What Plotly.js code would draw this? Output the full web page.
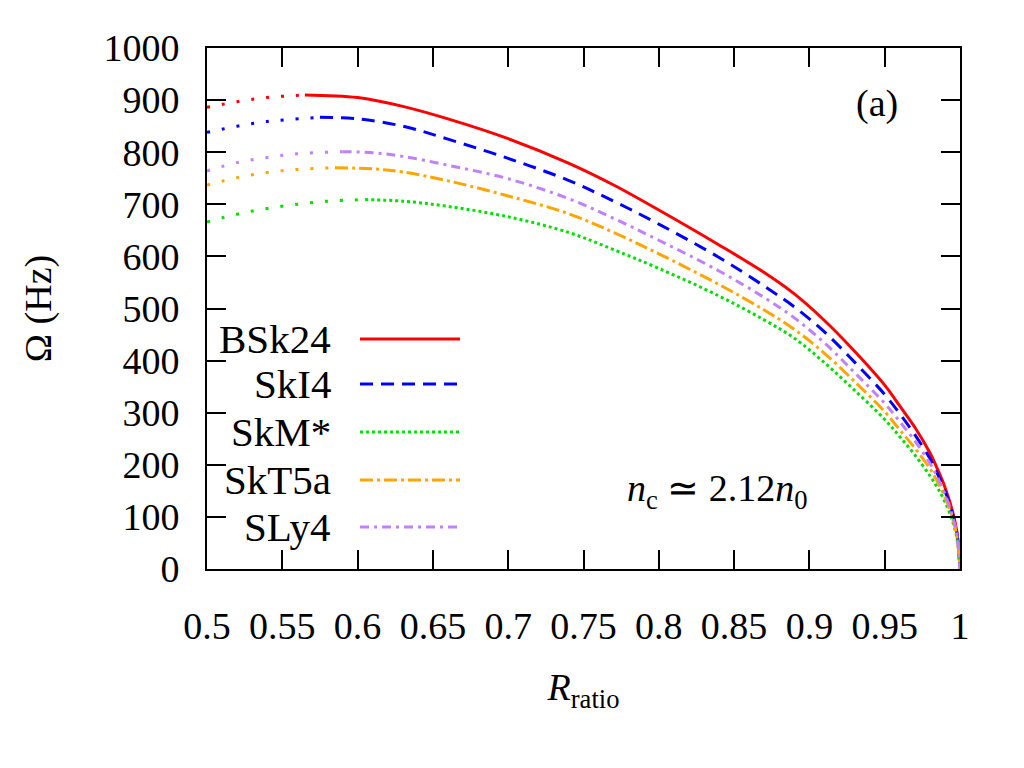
<!DOCTYPE html>
<html>
<head>
<meta charset="utf-8">
<script src="https://cdn.plot.ly/plotly-3.0.1.min.js"></script>
<style>
  html, body { margin: 0; padding: 0; background: #fff; }
  #chart { width: 1024px; height: 768px; }
</style>
</head>
<body>
<div id="chart"></div>
<script>
// Kepler-type frequency Omega (Hz) versus R_ratio for five Skyrme EoS,
// at n_c ~ 2.12 n_0. Each model has an unstable branch (sparse dots,
// left of the maximum) and a stable branch (model line style).

// BSk24
const bsk24UnstR = [0.50, 0.52, 0.54, 0.565];
const bsk24UnstW = [886, 897, 905, 910];
const bsk24R = [0.565, 0.60, 0.63, 0.66, 0.70, 0.74, 0.77, 0.80, 0.84, 0.87, 0.89, 0.91, 0.93, 0.95, 0.96, 0.97, 0.98, 0.985, 0.99, 0.995, 0.998, 1.0];
const bsk24W = [910, 905, 888, 864, 826, 779, 737, 689, 622, 569, 528, 477, 418, 353, 313, 272, 223, 192, 157, 111, 70, 0];

// SkI4
const ski4UnstR = [0.50, 0.52, 0.54, 0.575];
const ski4UnstW = [838, 850, 859, 867];
const ski4R = [0.575, 0.60, 0.63, 0.66, 0.70, 0.74, 0.77, 0.80, 0.84, 0.87, 0.89, 0.91, 0.93, 0.95, 0.96, 0.97, 0.98, 0.985, 0.99, 0.995, 0.998, 1.0];
const ski4W = [867, 864, 850, 825, 788, 746, 706, 662, 598, 543, 503, 455, 397, 335, 298, 258, 212, 183, 150, 106, 67, 0];

// SkM*
const skmUnstR = [0.50, 0.52, 0.54, 0.56, 0.58, 0.605];
const skmUnstW = [666, 681, 692, 700, 706, 709];
const skmR = [0.605, 0.63, 0.66, 0.70, 0.74, 0.77, 0.80, 0.84, 0.87, 0.89, 0.91, 0.93, 0.95, 0.96, 0.97, 0.98, 0.985, 0.99, 0.995, 0.998, 1.0];
const skmW = [709, 706, 696, 676, 646, 613, 577, 524, 478, 443, 396, 343, 287, 254, 219, 179, 156, 129, 92, 58, 0];

// SkT5a
const skt5aUnstR = [0.50, 0.52, 0.54, 0.56, 0.585];
const skt5aUnstW = [737, 751, 761, 767, 770];
const skt5aR = [0.585, 0.61, 0.63, 0.66, 0.70, 0.74, 0.77, 0.80, 0.84, 0.87, 0.89, 0.91, 0.93, 0.95, 0.96, 0.97, 0.98, 0.985, 0.99, 0.995, 0.998, 1.0];
const skt5aW = [770, 768, 762, 745, 716, 682, 646, 605, 546, 497, 460, 414, 360, 302, 267, 232, 193, 168, 138, 98, 62, 0];

// SLy4
const sly4UnstR = [0.50, 0.52, 0.54, 0.56, 0.59];
const sly4UnstW = [764, 780, 790, 797, 801];
const sly4R = [0.59, 0.61, 0.63, 0.66, 0.70, 0.74, 0.77, 0.80, 0.84, 0.87, 0.89, 0.91, 0.93, 0.95, 0.96, 0.97, 0.98, 0.985, 0.99, 0.995, 0.998, 1.0];
const sly4W = [801, 799, 792, 775, 749, 711, 673, 631, 572, 521, 482, 434, 377, 318, 283, 246, 203, 176, 144, 102, 64, 0];

const modelNames = ["BSk24", "SkI4", "SkM*", "SkT5a", "SLy4"];
const modelColors = ["#ff0000", "#0000ff", "#00e000", "#ffa500", "#c080ff"];
const modelDashes = ["solid", "13px,8px", "3px,3px", "13px,4px,3px,4px", "9px,5px,3px,5px"];
const unstableDash = "3px,12px";

const xTickVals = [0.5, 0.55, 0.6, 0.65, 0.7, 0.75, 0.8, 0.85, 0.9, 0.95, 1];
const xTickText = ["0.5", "0.55", "0.6", "0.65", "0.7", "0.75", "0.8", "0.85", "0.9", "0.95", "1"];
const yTickVals = [0, 100, 200, 300, 400, 500, 600, 700, 800, 900, 1000];

const branches = [
  [bsk24UnstR, bsk24UnstW, bsk24R, bsk24W],
  [ski4UnstR, ski4UnstW, ski4R, ski4W],
  [skmUnstR, skmUnstW, skmR, skmW],
  [skt5aUnstR, skt5aUnstW, skt5aR, skt5aW],
  [sly4UnstR, sly4UnstW, sly4R, sly4W]
];

const LW = 3;
const traces = [];
branches.forEach((b, i) => {
  traces.push({
    x: b[0], y: b[1], mode: "lines", name: modelNames[i] + " (unstable)",
    showlegend: false, hoverinfo: "skip",
    line: { color: modelColors[i], width: LW, dash: unstableDash, shape: "spline", smoothing: 1 }
  });
  traces.push({
    x: b[2], y: b[3], mode: "lines", name: modelNames[i],
    showlegend: false,
    line: { color: modelColors[i], width: LW, dash: modelDashes[i], shape: "spline", smoothing: 1 }
  });
});

const FONT = "'Liberation Serif', 'Times New Roman', serif";

// Key: label on the left, line sample on the right
const keyRows = [0.4415, 0.3551, 0.2630, 0.1708, 0.0806];
const annotations = [];
const shapes = [];
modelNames.forEach((n, i) => {
  annotations.push({
    xref: "paper", yref: "paper", x: 0.1673, y: keyRows[i],
    xanchor: "right", yanchor: "middle", showarrow: false,
    text: n, font: { family: FONT, size: 41, color: "#000" }
  });
  shapes.push({
    type: "line", xref: "paper", yref: "paper",
    x0: 0.2032, x1: 0.3360, y0: keyRows[i], y1: keyRows[i],
    line: { color: modelColors[i], width: LW, dash: modelDashes[i] }
  });
});

annotations.push({
  xref: "paper", yref: "paper", x: 0.8898, y: 0.8944,
  xanchor: "center", yanchor: "middle", showarrow: false,
  text: "(a)", font: { family: FONT, size: 38, color: "#000" }
});
annotations.push({
  xref: "paper", yref: "paper", x: 0.6773, y: 0.1497,
  xanchor: "center", yanchor: "middle", showarrow: false,
  text: "<i>n</i><sub>c</sub> \u2243 2.12<i>n</i><sub>0</sub>",
  font: { family: FONT, size: 38, color: "#000" }
});

const axisCommon = {
  showline: true, linecolor: "#000", linewidth: 2,
  mirror: "ticks", ticks: "inside", ticklen: 19, tickwidth: 2, tickcolor: "#000",
  showgrid: false, zeroline: false,
  tickfont: { family: FONT, size: 38, color: "#000" }
};

const layout = {
  width: 1024, height: 768,
  font: { family: FONT, color: "#000" },
  paper_bgcolor: "#fff", plot_bgcolor: "#fff",
  margin: { l: 207, r: 64, t: 48, b: 199 },
  showlegend: false,
  xaxis: Object.assign({}, axisCommon, {
    range: [0.5, 1], tickmode: "array", tickvals: xTickVals, ticktext: xTickText,
    ticklabelstandoff: 22,
    title: { text: "<i>R</i><sub>ratio</sub>", font: { family: FONT, size: 38, color: "#000" }, standoff: 28 }
  }),
  yaxis: Object.assign({}, axisCommon, {
    range: [0, 1000], tickmode: "array", tickvals: yTickVals,
    ticklabelstandoff: 18,
    title: { text: "\u03A9 (Hz)", font: { family: FONT, size: 38, color: "#000" }, standoff: 40 }
  }),
  annotations: annotations,
  shapes: shapes
};

Plotly.newPlot("chart", traces, layout, { staticPlot: true, displayModeBar: false });
</script>
</body>
</html>
